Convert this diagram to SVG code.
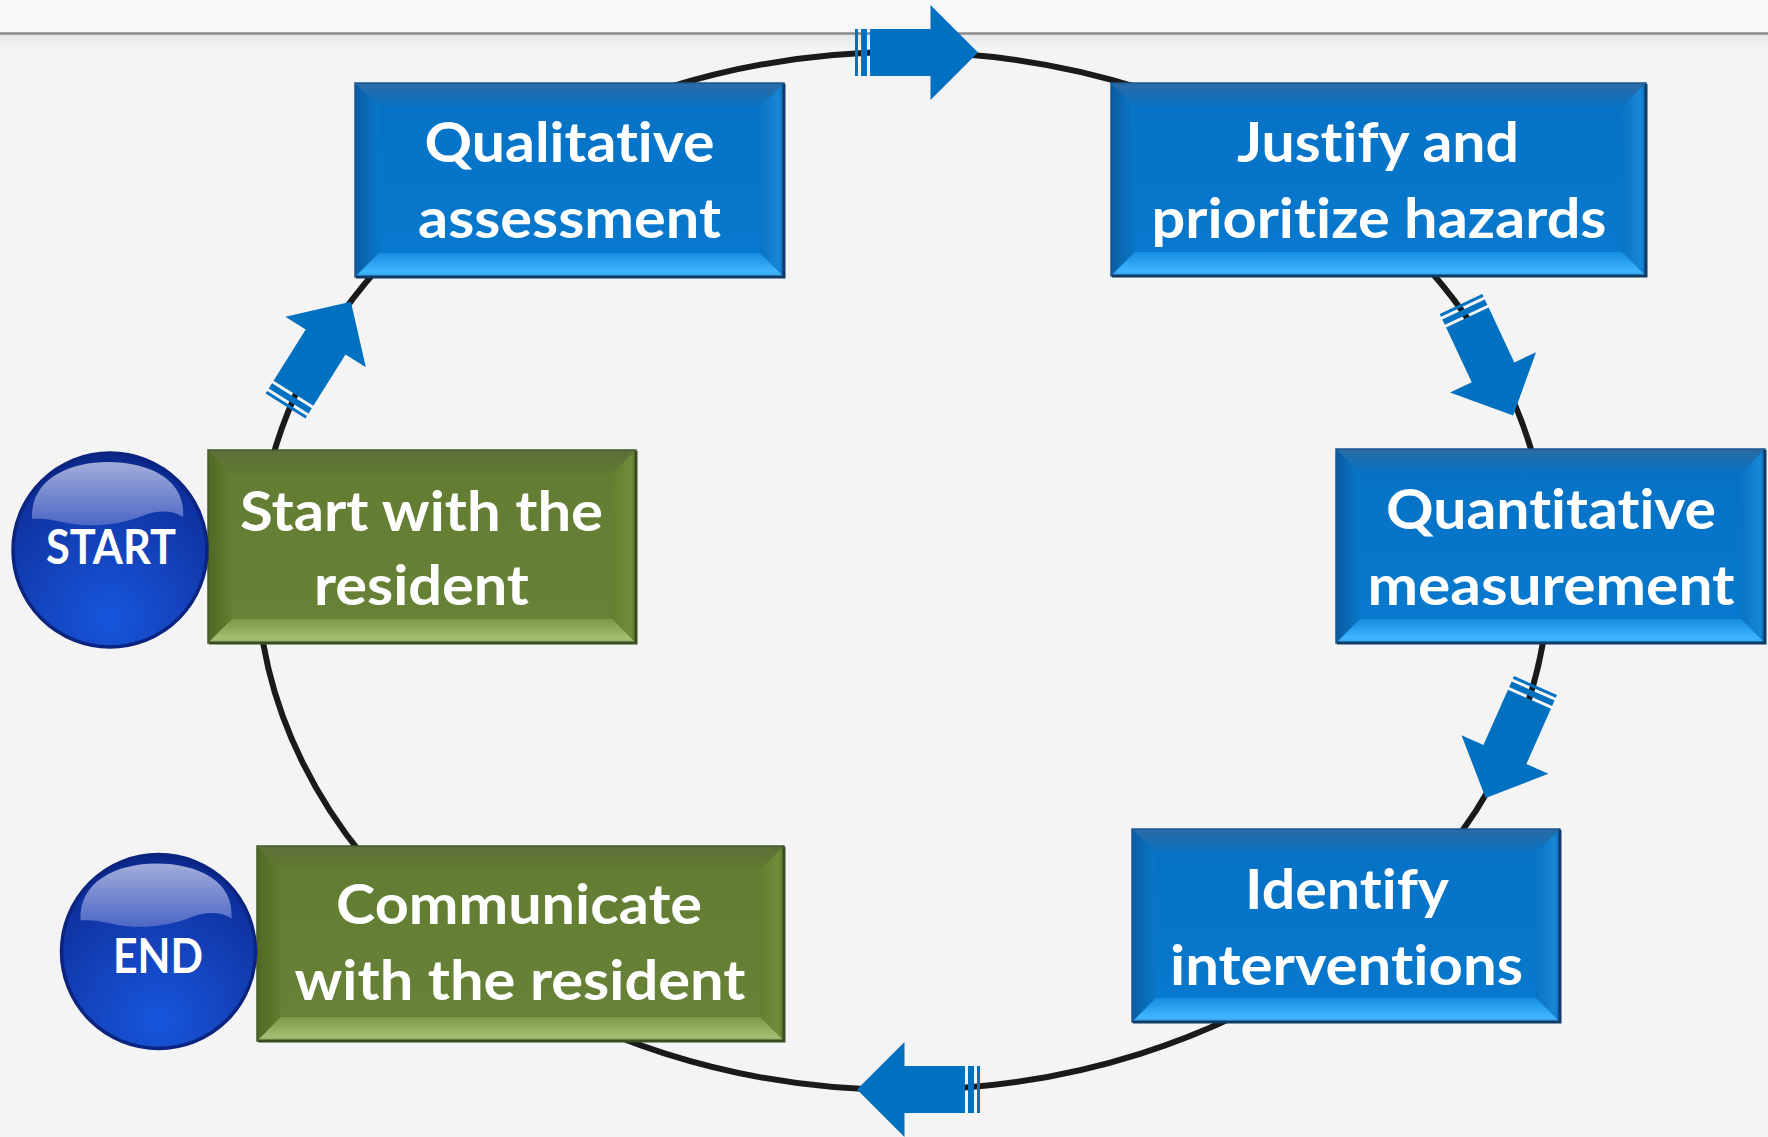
<svg xmlns="http://www.w3.org/2000/svg" xmlns:xlink="http://www.w3.org/1999/xlink" width="1768" height="1137" viewBox="0 0 1768 1137">
  <defs>
    <style>
      .lbl { font-family: "Lato", "Open Sans", "Liberation Sans", sans-serif; font-weight: 700; fill: #ffffff; text-anchor: middle; font-variant-ligatures: none; font-feature-settings: "liga" 0, "clig" 0; }
      .box { font-size: 55px; }
      .btn { font-size: 47px; }
      .rim-blue { fill: none; stroke: #1b5690; stroke-width: 1.5; }
      .rim-green { fill: none; stroke: #44592a; stroke-width: 1.5; }
      .edge-blue { fill: none; stroke: #0f3a66; stroke-width: 3; }
      .edge-green { fill: none; stroke: #3a4d22; stroke-width: 3; }
      .loop { fill: none; stroke: #1a1a1a; stroke-width: 6; }
      .arrow { fill: #0070c0; }
    </style>

    <!-- blue bevel gradients -->
    <linearGradient id="bFace" x1="0" y1="0" x2="0" y2="1">
      <stop offset="0" stop-color="#0571c4"/>
      <stop offset="1" stop-color="#087acf"/>
    </linearGradient>
    <linearGradient id="bTop" x1="0" y1="0" x2="0" y2="1">
      <stop offset="0" stop-color="#2c6ba4"/>
      <stop offset="1" stop-color="#0872c3"/>
    </linearGradient>
    <linearGradient id="bLeft" x1="0" y1="0" x2="1" y2="0">
      <stop offset="0" stop-color="#0b5ca2"/>
      <stop offset="1" stop-color="#0a77c9"/>
    </linearGradient>
    <linearGradient id="bRight" x1="1" y1="0" x2="0" y2="0">
      <stop offset="0" stop-color="#0d5fa8"/>
      <stop offset="0.2" stop-color="#1886d6"/>
      <stop offset="1" stop-color="#0a73c4"/>
    </linearGradient>
    <linearGradient id="bBottom" x1="0" y1="0" x2="0" y2="1">
      <stop offset="0" stop-color="#168ddf"/>
      <stop offset="0.8" stop-color="#3fb6ff"/>
      <stop offset="1" stop-color="#2f9ce6"/>
    </linearGradient>

    <!-- green bevel gradients -->
    <linearGradient id="gFace" x1="0" y1="0" x2="0" y2="1">
      <stop offset="0" stop-color="#627c31"/>
      <stop offset="1" stop-color="#688337"/>
    </linearGradient>
    <linearGradient id="gTop" x1="0" y1="0" x2="0" y2="1">
      <stop offset="0" stop-color="#5e6f3a"/>
      <stop offset="1" stop-color="#607a2f"/>
    </linearGradient>
    <linearGradient id="gLeft" x1="0" y1="0" x2="1" y2="0">
      <stop offset="0" stop-color="#4f6826"/>
      <stop offset="1" stop-color="#637f30"/>
    </linearGradient>
    <linearGradient id="gRight" x1="1" y1="0" x2="0" y2="0">
      <stop offset="0" stop-color="#55702a"/>
      <stop offset="0.2" stop-color="#6e8c3a"/>
      <stop offset="1" stop-color="#64802f"/>
    </linearGradient>
    <linearGradient id="gBottom" x1="0" y1="0" x2="0" y2="1">
      <stop offset="0" stop-color="#7a9846"/>
      <stop offset="0.8" stop-color="#a3bf72"/>
      <stop offset="1" stop-color="#8fab5c"/>
    </linearGradient>

    <!-- round button gradients -->
    <radialGradient id="btnFill" cx="0.5" cy="0.85" r="0.85">
      <stop offset="0" stop-color="#1656dc"/>
      <stop offset="0.45" stop-color="#1443bc"/>
      <stop offset="0.85" stop-color="#0e319f"/>
      <stop offset="1" stop-color="#0a2686"/>
    </radialGradient>
    <linearGradient id="btnShine" x1="0" y1="0" x2="0" y2="1">
      <stop offset="0" stop-color="#a2acda"/>
      <stop offset="1" stop-color="#4c67c6"/>
    </linearGradient>

    <linearGradient id="ruleShade" x1="0" y1="0" x2="0" y2="1">
      <stop offset="0" stop-color="#e6e6e6"/>
      <stop offset="1" stop-color="#f4f4f4"/>
    </linearGradient>

    <!-- striped arrow: tail at x=0, pointing along +x -->
    <g id="sArrow" class="arrow">
      <rect x="0" y="-23.5" width="3" height="47"/>
      <rect x="6" y="-23.5" width="6" height="47"/>
      <polygon points="15,-23.5 75.5,-23.5 75.5,-47.5 123,0 75.5,47.5 75.5,23.5 15,23.5"/>
    </g>

    <!-- glossy highlight for round buttons, centred on 0,0 -->
    <path id="shine" fill="url(#btnShine)" d="M -78,-31 C -80,-70 -42,-88 -2,-88 C 40,-88 76,-70 73,-33 C 62,-40 48,-40 32,-34 C 12,-26 -18,-21 -48,-28 C -60,-31 -70,-32 -78,-31 Z"/>
  </defs>

  <!-- page background -->
  <rect x="0" y="0" width="1768" height="1137" fill="#f4f4f4"/>
  <rect x="0" y="0" width="1768" height="33" fill="#f8f8f8"/>
  <rect x="0" y="35" width="1768" height="12" fill="url(#ruleShade)"/>
  <line x1="0" y1="33.5" x2="1768" y2="33.5" stroke="#8a8a8a" stroke-width="2.5"/>

  <!-- cycle ring and direction arrows -->
  <g id="connectors">
    <ellipse class="loop" cx="903" cy="571" rx="646" ry="519"/>
    <use href="#sArrow" xlink:href="#sArrow" transform="translate(855,52.5)"/>
    <use href="#sArrow" xlink:href="#sArrow" transform="translate(1461,304) rotate(64.9)"/>
    <use href="#sArrow" xlink:href="#sArrow" transform="translate(1535.5,685.5) rotate(113.9)"/>
    <use href="#sArrow" xlink:href="#sArrow" transform="translate(980,1089.5) rotate(180)"/>
    <use href="#sArrow" xlink:href="#sArrow" transform="translate(285.5,406) rotate(-57.9)"/>
  </g>

  <!-- Qualitative assessment: x 355..784, y 83..277 -->
  <g id="qualitative">
    <rect x="355" y="83" width="429" height="194" fill="url(#bFace)"/>
    <polygon points="355,83 784,83 760,107 379,107" fill="url(#bTop)"/>
    <polygon points="355,83 379,107 379,253 355,277" fill="url(#bLeft)"/>
    <polygon points="784,83 760,107 760,253 784,277" fill="url(#bRight)"/>
    <polygon points="355,277 379,253 760,253 784,277" fill="url(#bBottom)"/>
    <rect class="rim-blue" x="355" y="83" width="429" height="194"/>
    <polyline class="edge-blue" points="784,84 784,277 356,277"/>
    <text class="lbl box" x="569.5" y="162" textLength="290" lengthAdjust="spacingAndGlyphs">Qualitative</text>
    <text class="lbl box" x="569.5" y="238" textLength="303" lengthAdjust="spacingAndGlyphs">assessment</text>
  </g>

  <!-- Justify and prioritize hazards: x 1111..1646, y 83..276 -->
  <g id="justify">
    <rect x="1111" y="83" width="535" height="193" fill="url(#bFace)"/>
    <polygon points="1111,83 1646,83 1622,107 1135,107" fill="url(#bTop)"/>
    <polygon points="1111,83 1135,107 1135,252 1111,276" fill="url(#bLeft)"/>
    <polygon points="1646,83 1622,107 1622,252 1646,276" fill="url(#bRight)"/>
    <polygon points="1111,276 1135,252 1622,252 1646,276" fill="url(#bBottom)"/>
    <rect class="rim-blue" x="1111" y="83" width="535" height="193"/>
    <polyline class="edge-blue" points="1646,84 1646,276 1112,276"/>
    <text class="lbl box" x="1378" y="162" textLength="282" lengthAdjust="spacingAndGlyphs">Justify and</text>
    <text class="lbl box" x="1379" y="238" textLength="455" lengthAdjust="spacingAndGlyphs">prioritize hazards</text>
  </g>

  <!-- Quantitative measurement: x 1336..1765, y 449..643 -->
  <g id="quantitative">
    <rect x="1336" y="449" width="429" height="194" fill="url(#bFace)"/>
    <polygon points="1336,449 1765,449 1741,473 1360,473" fill="url(#bTop)"/>
    <polygon points="1336,449 1360,473 1360,619 1336,643" fill="url(#bLeft)"/>
    <polygon points="1765,449 1741,473 1741,619 1765,643" fill="url(#bRight)"/>
    <polygon points="1336,643 1360,619 1741,619 1765,643" fill="url(#bBottom)"/>
    <rect class="rim-blue" x="1336" y="449" width="429" height="194"/>
    <polyline class="edge-blue" points="1765,450 1765,643 1337,643"/>
    <text class="lbl box" x="1551" y="529" textLength="330" lengthAdjust="spacingAndGlyphs">Quantitative</text>
    <text class="lbl box" x="1551" y="605" textLength="367" lengthAdjust="spacingAndGlyphs">measurement</text>
  </g>

  <!-- Identify interventions: x 1132..1560, y 829..1022 -->
  <g id="identify">
    <rect x="1132" y="829" width="428" height="193" fill="url(#bFace)"/>
    <polygon points="1132,829 1560,829 1536,853 1156,853" fill="url(#bTop)"/>
    <polygon points="1132,829 1156,853 1156,998 1132,1022" fill="url(#bLeft)"/>
    <polygon points="1560,829 1536,853 1536,998 1560,1022" fill="url(#bRight)"/>
    <polygon points="1132,1022 1156,998 1536,998 1560,1022" fill="url(#bBottom)"/>
    <rect class="rim-blue" x="1132" y="829" width="428" height="193"/>
    <polyline class="edge-blue" points="1560,830 1560,1022 1133,1022"/>
    <text class="lbl box" x="1347" y="909" textLength="204" lengthAdjust="spacingAndGlyphs">Identify</text>
    <text class="lbl box" x="1346.5" y="985" textLength="353" lengthAdjust="spacingAndGlyphs">interventions</text>
  </g>

  <!-- Communicate with the resident: x 257..784, y 846..1041 -->
  <g id="communicate">
    <rect x="257" y="846" width="527" height="195" fill="url(#gFace)"/>
    <polygon points="257,846 784,846 760,870 281,870" fill="url(#gTop)"/>
    <polygon points="257,846 281,870 281,1017 257,1041" fill="url(#gLeft)"/>
    <polygon points="784,846 760,870 760,1017 784,1041" fill="url(#gRight)"/>
    <polygon points="257,1041 281,1017 760,1017 784,1041" fill="url(#gBottom)"/>
    <rect class="rim-green" x="257" y="846" width="527" height="195"/>
    <polyline class="edge-green" points="784,847 784,1041 258,1041"/>
    <text class="lbl box" x="519" y="924" textLength="366" lengthAdjust="spacingAndGlyphs">Communicate</text>
    <text class="lbl box" x="520" y="1000" textLength="451" lengthAdjust="spacingAndGlyphs">with the resident</text>
  </g>

  <!-- Start with the resident: x 208..636, y 450..643 -->
  <g id="start-resident">
    <rect x="208" y="450" width="428" height="193" fill="url(#gFace)"/>
    <polygon points="208,450 636,450 612,474 232,474" fill="url(#gTop)"/>
    <polygon points="208,450 232,474 232,619 208,643" fill="url(#gLeft)"/>
    <polygon points="636,450 612,474 612,619 636,643" fill="url(#gRight)"/>
    <polygon points="208,643 232,619 612,619 636,643" fill="url(#gBottom)"/>
    <rect class="rim-green" x="208" y="450" width="428" height="193"/>
    <polyline class="edge-green" points="636,451 636,643 209,643"/>
    <text class="lbl box" x="421.5" y="531" textLength="363" lengthAdjust="spacingAndGlyphs">Start with the</text>
    <text class="lbl box" x="421.5" y="605" textLength="215" lengthAdjust="spacingAndGlyphs">resident</text>
  </g>

  <!-- START button -->
  <g id="start">
    <circle cx="110" cy="550" r="97" fill="url(#btnFill)" stroke="#0a2480" stroke-width="3.5"/>
    <use href="#shine" xlink:href="#shine" transform="translate(110,550)"/>
    <text class="lbl btn" x="111" y="564" textLength="130" lengthAdjust="spacingAndGlyphs">START</text>
  </g>

  <!-- END button -->
  <g id="end">
    <circle cx="158.5" cy="951.5" r="97" fill="url(#btnFill)" stroke="#0a2480" stroke-width="3.5"/>
    <use href="#shine" xlink:href="#shine" transform="translate(158.5,951.5)"/>
    <text class="lbl btn" x="158" y="973" textLength="90" lengthAdjust="spacingAndGlyphs">END</text>
  </g>
</svg>
